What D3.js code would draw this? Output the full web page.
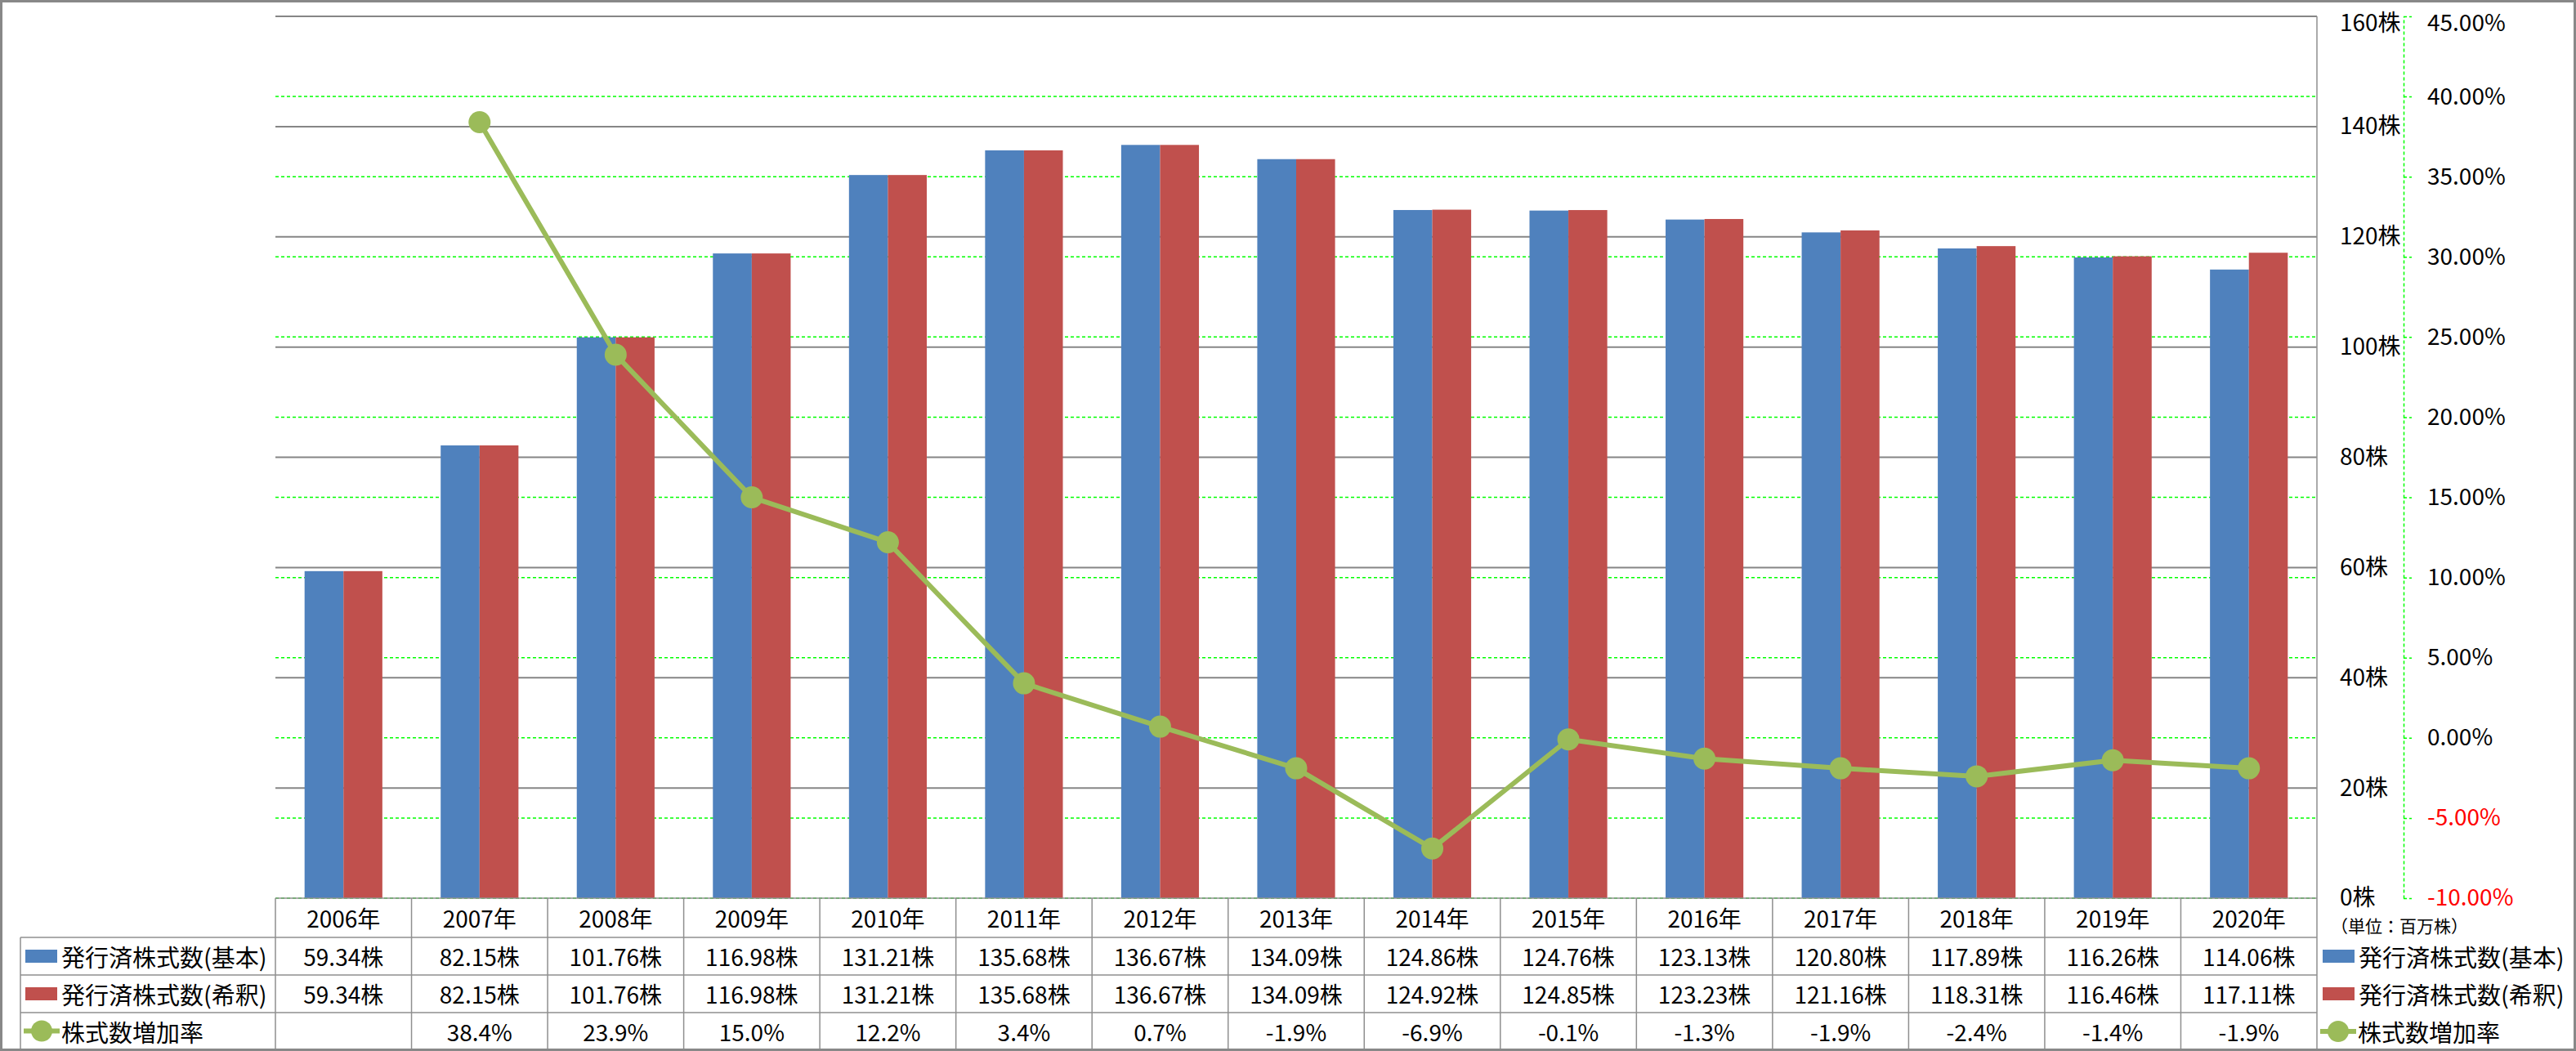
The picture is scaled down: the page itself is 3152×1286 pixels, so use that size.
<!DOCTYPE html>
<html><head><meta charset="utf-8">
<script src="https://cdn.jsdelivr.net/npm/d3@7/dist/d3.min.js"></script>
<style>
html,body{margin:0;padding:0;background:#fff;}
svg{display:block;font-family:"Noto Sans CJK JP","Noto Sans",sans-serif;}
</style></head>
<body><svg id="c" width="3152" height="1286"></svg>
<script>
const years = ["2006年","2007年","2008年","2009年","2010年","2011年","2012年","2013年","2014年","2015年","2016年","2017年","2018年","2019年","2020年"];
const basic = [59.34,82.15,101.76,116.98,131.21,135.68,136.67,134.09,124.86,124.76,123.13,120.80,117.89,116.26,114.06];
const diluted = [59.34,82.15,101.76,116.98,131.21,135.68,136.67,134.09,124.92,124.85,123.23,121.16,118.31,116.46,117.11];
const growth = [null,38.4,23.9,15.0,12.2,3.4,0.7,-1.9,-6.9,-0.1,-1.3,-1.9,-2.4,-1.4,-1.9];
const seriesNames = ["発行済株式数(基本)","発行済株式数(希釈)","株式数増加率"];
const leftTicks = [0,20,40,60,80,100,120,140,160];
const rightTicks = [-10,-5,0,5,10,15,20,25,30,35,40,45];
const unitLabel = "（単位：百万株）";

const COL_B="#4F81BD", COL_R="#C0504D", COL_G="#9BBB59", GRID="#868686", TBL="#8f8f8f";
const svg = d3.select("#c");
const L=337, R=2835, T=20, B=1099;

const x0 = d3.scaleBand().domain(years).range([L,R]).padding(0);
const x1 = d3.scaleBand().domain(["b","d"]).range([0,x0.bandwidth()]).paddingInner(0).paddingOuter(0.75);
const yL = d3.scaleLinear().domain([0,160]).range([B,T]);
const yR = d3.scaleLinear().domain([-10,45]).range([B,T]);

// green dashed gridlines
svg.append("g").selectAll("line").data(rightTicks).join("line")
  .attr("x1",L).attr("x2",R).attr("y1",d=>yR(d)).attr("y2",d=>yR(d))
  .attr("stroke","#00FF00").attr("stroke-width",1.5).attr("stroke-dasharray","4,3");
// gray gridlines
svg.append("g").selectAll("line").data(leftTicks.filter(d=>d>0)).join("line")
  .attr("x1",L).attr("x2",R).attr("y1",d=>yL(d)).attr("y2",d=>yL(d))
  .attr("stroke",GRID).attr("stroke-width",2);
// right border of plot
svg.append("line").attr("x1",R).attr("x2",R).attr("y1",T).attr("y2",B).attr("stroke",TBL).attr("stroke-width",1.5);

// bars
const gb = svg.append("g");
gb.selectAll("rect.b").data(basic).join("rect").attr("class","b")
  .attr("x",(d,i)=>x0(years[i])+x1("b")).attr("width",x1.bandwidth())
  .attr("y",d=>yL(d)).attr("height",d=>B-yL(d)).attr("fill",COL_B);
gb.selectAll("rect.d").data(diluted).join("rect").attr("class","d")
  .attr("x",(d,i)=>x0(years[i])+x1("d")).attr("width",x1.bandwidth())
  .attr("y",d=>yL(d)).attr("height",d=>B-yL(d)).attr("fill",COL_R);

// line
const cx = i => x0(years[i]) + x0.bandwidth()/2;
const line = d3.line().defined(d=>d!=null).x((d,i)=>cx(i)).y(d=>yR(d));
svg.append("path").datum(growth).attr("d",line).attr("fill","none")
  .attr("stroke",COL_G).attr("stroke-width",6).attr("stroke-linejoin","round");
svg.append("g").selectAll("circle").data(growth.map((v,i)=>({v,i})).filter(d=>d.v!=null)).join("circle")
  .attr("cx",d=>cx(d.i)).attr("cy",d=>yR(d.v)).attr("r",13.5).attr("fill",COL_G);

// left value axis (labels on right side)
const axL = svg.append("g").attr("transform",`translate(2863,0)`)
  .call(d3.axisRight(yL).tickValues(leftTicks).tickFormat(d=>d+"株").tickSize(0).tickPadding(0));
axL.select(".domain").remove();
axL.selectAll("text").attr("font-size",28).attr("fill","#000").attr("font-family",'"Noto Sans CJK JP",sans-serif')
  .attr("dy",d=>d===160?"0.62em":"0.32em");

// percent axis
const axR = svg.append("g").attr("transform",`translate(2941,0)`)
  .call(d3.axisRight(yR).tickValues(rightTicks).tickFormat(d=>d.toFixed(2)+"%").tickSize(10).tickSizeOuter(0).tickPadding(19));
axR.select(".domain").attr("stroke","#00FF00").attr("stroke-width",1.5).attr("stroke-dasharray","4,3");
axR.selectAll(".tick line").attr("stroke","#00FF00").attr("stroke-width",1.5).attr("stroke-dasharray","4,3");
axR.selectAll("text").attr("font-size",28).attr("fill",d=>d<0?"#FF0000":"#000").attr("font-family",'"Noto Sans CJK JP",sans-serif')
  .attr("dy",d=>d===45?"0.62em":"0.32em");

// unit label
svg.append("text").attr("x",2852).attr("y",1132).attr("dominant-baseline","central")
  .attr("font-size",21).attr("fill","#000").text(unitLabel);

// data table
const rowsY = [1099,1147,1193,1239,1284];
const TL = 25;
const gt = svg.append("g").attr("stroke",TBL).attr("stroke-width",1.5);
gt.append("line").attr("x1",L).attr("x2",R).attr("y1",rowsY[0]).attr("y2",rowsY[0]);
[1,2,3].forEach(k=>gt.append("line").attr("x1",TL).attr("x2",R).attr("y1",rowsY[k]).attr("y2",rowsY[k]));
gt.append("line").attr("x1",TL).attr("x2",TL).attr("y1",rowsY[1]).attr("y2",rowsY[4]);
const colEdges = years.map(y=>x0(y)).concat([R]);
gt.selectAll("line.v").data(colEdges).join("line").attr("class","v")
  .attr("x1",d=>d).attr("x2",d=>d).attr("y1",rowsY[0]).attr("y2",rowsY[4]);

const rowC = k => (rowsY[k]+rowsY[k+1])/2;
const tt = svg.append("g").attr("font-size",28).attr("fill","#000").attr("text-anchor","middle");
tt.selectAll("text.h").data(years).join("text").attr("class","h")
  .attr("x",(d,i)=>cx(i)).attr("y",rowC(0)).attr("dominant-baseline","central").text(d=>d);
tt.selectAll("text.r1").data(basic).join("text").attr("class","r1")
  .attr("x",(d,i)=>cx(i)).attr("y",rowC(1)).attr("dominant-baseline","central").text(d=>d.toFixed(2)+"株");
tt.selectAll("text.r2").data(diluted).join("text").attr("class","r2")
  .attr("x",(d,i)=>cx(i)).attr("y",rowC(2)).attr("dominant-baseline","central").text(d=>d.toFixed(2)+"株");
tt.selectAll("text.r3").data(growth).join("text").attr("class","r3")
  .attr("x",(d,i)=>cx(i)).attr("y",rowC(3)).attr("dominant-baseline","central").text(d=>d==null?"":d.toFixed(1)+"%");

// legend keys (table + right legend)
function legendKey(x, yc, k){
  if(k<2){
    svg.append("rect").attr("x",x).attr("y",yc-8).attr("width",39).attr("height",16).attr("fill",k==0?COL_B:COL_R);
  } else {
    svg.append("line").attr("x1",x-2).attr("x2",x+42).attr("y1",yc).attr("y2",yc).attr("stroke",COL_G).attr("stroke-width",6);
    svg.append("circle").attr("cx",x+20).attr("cy",yc).attr("r",13).attr("fill",COL_G);
  }
  svg.append("text").attr("x",x+44).attr("y",yc).attr("dominant-baseline","central")
    .attr("font-size",29).attr("fill","#000").text(seriesNames[k]);
}
[0,1,2].forEach(k=>legendKey(31, rowC(k+1), k));
legendKey(2842, 1170, 0);
legendKey(2842, 1216, 1);
legendKey(2841, 1262, 2);

// outer border
svg.append("rect").attr("x",1.5).attr("y",1.5).attr("width",3149).attr("height",1283)
  .attr("fill","none").attr("stroke","#888").attr("stroke-width",3);
</script></body></html>
